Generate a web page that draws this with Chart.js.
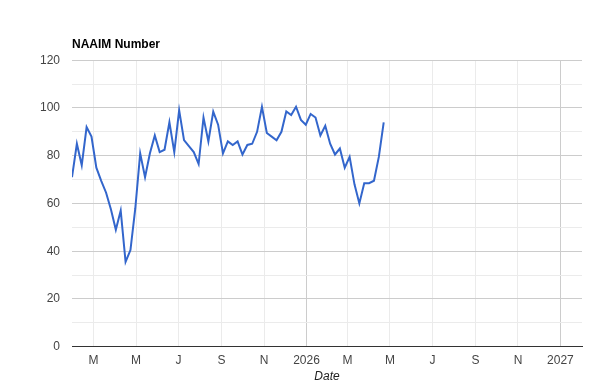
<!DOCTYPE html>
<html>
<head>
<meta charset="utf-8">
<script src="https://cdn.jsdelivr.net/npm/chart.js@4.4.1/dist/chart.umd.min.js"></script>
<style>
  body { margin: 0; background: #fff; }
  #wrap { width: 604px; height: 383px; }
</style>
</head>
<body>
<div id="wrap"><canvas id="naaim-chart" width="604" height="383"></canvas></div>
<script>
// weekly NAAIM readings (Wednesdays)
const weekDates = [
    '2025-01-29', '2025-02-05', '2025-02-12', '2025-02-19', '2025-02-26',
    '2025-03-05', '2025-03-12', '2025-03-19', '2025-03-26',
    '2025-04-02', '2025-04-09', '2025-04-16', '2025-04-23', '2025-04-30',
    '2025-05-07', '2025-05-14', '2025-05-21', '2025-05-28',
    '2025-06-04', '2025-06-11', '2025-06-18', '2025-06-25',
    '2025-07-02', '2025-07-09', '2025-07-16', '2025-07-23', '2025-07-30',
    '2025-08-06', '2025-08-13', '2025-08-20', '2025-08-27',
    '2025-09-03', '2025-09-10', '2025-09-17', '2025-09-24',
    '2025-10-01', '2025-10-08', '2025-10-15', '2025-10-22', '2025-10-29',
    '2025-11-05', '2025-11-12', '2025-11-19', '2025-11-26',
    '2025-12-03', '2025-12-10', '2025-12-17', '2025-12-24', '2025-12-31',
    '2026-01-07', '2026-01-14', '2026-01-21', '2026-01-28',
    '2026-02-04', '2026-02-11', '2026-02-18', '2026-02-25',
    '2026-03-04', '2026-03-11', '2026-03-18', '2026-03-25',
    '2026-04-01', '2026-04-08', '2026-04-15', '2026-04-22'
];

const naaimValues = [
    71, 85, 76, 92, 88,
    75, 69.5, 64.5, 57.5,
    49, 57, 35.5, 40.5, 58,
    81, 71, 81, 88.5,
    81.5, 82.5, 94, 81.5,
    99, 86.5, 84, 81.5, 76.5,
    96, 86, 98.5, 93,
    81, 86, 84.5, 86,
    80.5, 84.5, 85, 90, 100.5,
    89.5, 88, 86.5, 90,
    98.5, 97, 100.5, 95, 93,
    97.5, 96, 88.5, 92.5,
    85, 80.5, 83, 75,
    79.5, 68, 60, 68.5,
    68.5, 69.5, 79.5, 94
];

const tickDates = [
    '2025-03-01', '2025-05-01', '2025-07-01', '2025-09-01', '2025-11-01', '2026-01-01',
    '2026-03-01', '2026-05-01', '2026-07-01', '2026-09-01', '2026-11-01', '2027-01-01'
];
const tickLabels = ['M', 'M', 'J', 'S', 'N', '2026', 'M', 'M', 'J', 'S', 'N', '2027'];

const axisStart = '2025-01-29';
const axisEnd = '2027-02-01';

function toMs(d) {
    return new Date(d + 'T00:00:00Z').getTime();
}

const fontFamily = "'Liberation Sans', Arial, sans-serif";
const tickMs = tickDates.map(toMs);

const ctx = document.getElementById('naaim-chart').getContext('2d');
const naaimChart = new Chart(ctx, {
    type: 'line',
    data: {
        datasets: [{
            label: 'NAAIM Number',
            data: weekDates.map((d, i) => ({ x: toMs(d), y: naaimValues[i] })),
            borderColor: '#3366cc',
            borderWidth: 2,
            pointRadius: 0,
            fill: false,
            tension: 0,
        }],
    },
    options: {
        responsive: false,
        animation: false,
        devicePixelRatio: 1,
        layout: {
            padding: { left: 0, right: 22, top: 0, bottom: 0 },
        },
        plugins: {
            legend: { display: false },
            tooltip: { enabled: false },
            title: {
                display: true,
                text: 'NAAIM Number',
                align: 'start',
                fullSize: false,
                color: '#000',
                font: { family: fontFamily, size: 12, weight: 'bold', lineHeight: 1.2 },
                padding: { top: 37.5, bottom: 8.3 },
            },
        },
        scales: {
            x: {
                type: 'linear',
                min: toMs(axisStart),
                max: toMs(axisEnd),
                afterBuildTicks: scale => {
                    scale.ticks = tickMs.map(v => ({ value: v }));
                },
                afterFit: scale => {
                    scale.height = 36.3;
                },
                ticks: {
                    autoSkip: false,
                    maxRotation: 0,
                    padding: 6.5,
                    color: '#444',
                    font: { family: fontFamily, size: 12 },
                    callback: value => {
                        const i = tickMs.indexOf(value);
                        return i >= 0 ? tickLabels[i] : '';
                    },
                },
                grid: {
                    drawTicks: false,
                    color: c => {
                        const i = tickMs.indexOf(c.tick ? c.tick.value : NaN);
                        return (i >= 0 && /^\d+$/.test(tickLabels[i])) ? '#cccccc' : '#ebebeb';
                    },
                    lineWidth: 1,
                },
                border: { display: true, color: '#333333', width: 1 },
                title: {
                    display: true,
                    text: 'Date',
                    color: '#222',
                    font: { family: fontFamily, size: 12, style: 'italic', lineHeight: 1 },
                    padding: { top: 3.4, bottom: 0 },
                },
            },
            y: {
                min: 0,
                max: 120,
                afterFit: scale => {
                    scale.width = 72;
                },
                ticks: {
                    stepSize: 10,
                    padding: 12,
                    color: '#444',
                    font: { family: fontFamily, size: 12 },
                    callback: value => (value % 20 === 0 ? String(value) : ''),
                },
                grid: {
                    drawTicks: false,
                    color: c => {
                        const v = c.tick ? c.tick.value : 0;
                        if (v === 0) return '#333333';
                        return v % 20 === 0 ? '#cccccc' : '#ebebeb';
                    },
                },
                border: { display: false },
            },
        },
    },
});
</script>
</body>
</html>
